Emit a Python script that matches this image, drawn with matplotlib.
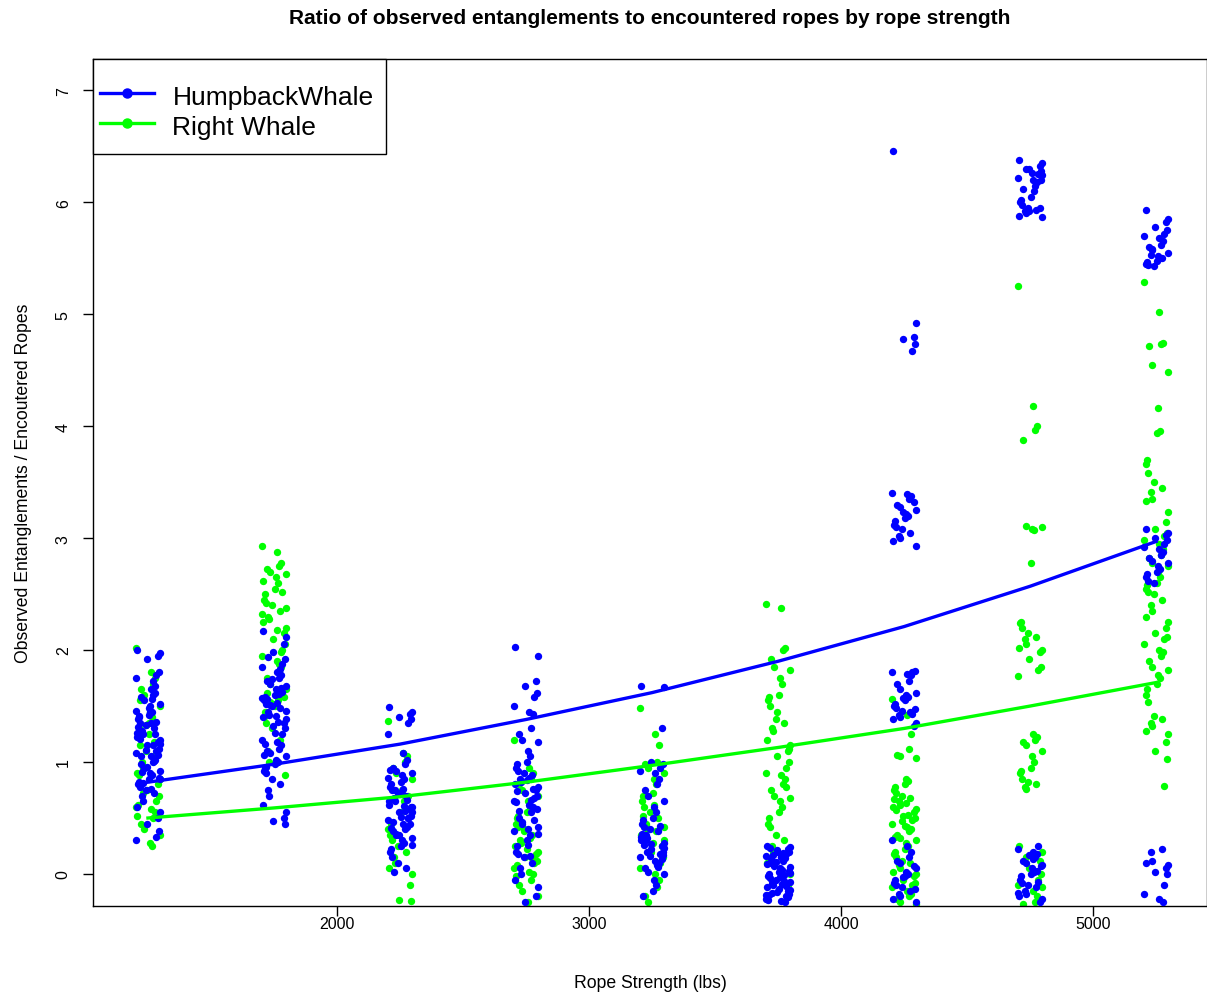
import matplotlib
matplotlib.use("Agg")
import matplotlib.pyplot as plt
from matplotlib.lines import Line2D
from matplotlib.patches import Rectangle

plt.rcParams['font.family'] = ['Liberation Sans', 'DejaVu Sans']

# ---------------- data ----------------
STRENGTHS = [1250, 1750, 2250, 2750, 3250, 3750, 4250, 4750, 5250]

HB_FIT = [0.82, 0.98, 1.16, 1.38, 1.62, 1.90, 2.21, 2.57, 2.97]
RW_FIT = [0.50, 0.59, 0.69, 0.82, 0.97, 1.13, 1.30, 1.50, 1.71]

HB_1250 = [2.0, 1.97, 1.95, 1.92, 1.8, 1.78, 1.75, 1.65, 1.62, 1.6, 1.58, 1.55, 1.52, 1.5, 1.45, 1.42, 1.4, 1.38,
           1.35, 1.33, 1.3, 1.28, 1.25, 1.22, 1.2, 1.18, 1.15, 1.12, 1.1, 1.08, 1.05, 1.02, 1.0, 0.98, 0.95, 0.92,
           0.9, 0.88, 0.85, 0.82, 0.8, 0.78, 0.75, 0.72, 0.7, 0.65, 0.6, 0.55, 0.5, 0.45, 0.38, 0.33, 0.3, 1.35,
           1.25, 1.15, 1.05, 0.95, 0.85, 1.45, 1.56, 1.48, 1.41, 1.31, 1.21, 1.11, 1.01, 0.91, 0.81, 1.26, 1.16,
           1.06, 0.96, 0.86, 1.36, 1.46, 0.76, 1.68, 1.72]
RW_1250 = [2.02, 1.8, 1.75, 1.7, 1.65, 1.6, 1.5, 1.45, 1.4, 1.35, 1.3, 1.22, 1.15, 1.1, 1.05, 1.0, 0.95, 0.9,
           0.85, 0.8, 0.75, 0.7, 0.65, 0.6, 0.58, 0.55, 0.5, 0.45, 0.4, 0.35, 0.28, 0.25, 1.25, 0.88, 0.62,
           1.55, 1.33, 1.18, 0.98, 0.72, 0.52]

HB_1750 = [2.17, 2.12, 2.05, 1.98, 1.92, 1.88, 1.85, 1.8, 1.78, 1.75, 1.72, 1.7, 1.68, 1.65, 1.62, 1.6, 1.58,
           1.55, 1.52, 1.5, 1.48, 1.45, 1.42, 1.4, 1.38, 1.35, 1.32, 1.3, 1.25, 1.2, 1.18, 1.15, 1.12, 1.1, 1.08,
           1.05, 1.02, 1.0, 0.98, 0.95, 0.92, 0.9, 0.85, 0.8, 0.75, 0.7, 0.62, 0.55, 0.5, 0.47, 0.45, 1.63,
           1.57, 1.53, 1.66, 1.61, 1.56, 1.51, 1.46, 1.41, 1.36, 1.26, 1.16, 1.06, 0.96, 1.74, 1.83, 1.94]
RW_1750 = [2.93, 2.88, 2.78, 2.75, 2.72, 2.7, 2.68, 2.65, 2.6, 2.55, 2.5, 2.45, 2.42, 2.4, 2.35, 2.3, 2.28,
           2.25, 2.2, 2.15, 2.1, 2.05, 2.0, 1.95, 1.9, 1.85, 1.8, 1.75, 1.7, 1.65, 1.6, 1.55, 1.5, 1.45, 1.4,
           1.35, 1.3, 1.2, 1.1, 1.0, 2.62, 2.38, 1.58, 1.52, 0.88, 2.52, 2.32, 2.18, 1.98, 1.88, 1.62, 1.54]

HB_2250 = [1.49, 1.45, 1.43, 1.4, 1.38, 1.35, 1.25, 1.08, 1.02, 0.98, 0.95, 0.92, 0.9, 0.88, 0.85, 0.82, 0.8,
           0.78, 0.75, 0.72, 0.7, 0.68, 0.65, 0.62, 0.6, 0.58, 0.55, 0.52, 0.5, 0.48, 0.45, 0.42, 0.4, 0.38,
           0.35, 0.32, 0.3, 0.28, 0.25, 0.22, 0.2, 0.15, 0.1, 0.05, 0.02, 0.75, 0.65, 0.55, 0.45, 0.35, 0.6, 0.5,
           0.86, 0.76, 0.66, 0.56, 0.46, 0.36, 0.26, 0.71, 0.61, 0.51, 0.41, 0.93]
RW_2250 = [1.37, 1.08, 1.05, 1.0, 0.95, 0.9, 0.85, 0.75, 0.65, 0.55, 0.45, 0.35, 0.3, 0.25, 0.2, 0.15, 0.1,
           0.05, 0.0, -0.1, -0.23, -0.24, 0.7, 0.4]

HB_2750 = [2.03, 1.95, 1.72, 1.68, 1.62, 1.58, 1.5, 1.45, 1.43, 1.3, 1.25, 1.2, 1.18, 1.1, 1.05, 1.0, 0.98,
           0.95, 0.92, 0.9, 0.88, 0.85, 0.82, 0.8, 0.78, 0.75, 0.72, 0.7, 0.68, 0.65, 0.62, 0.6, 0.55, 0.5,
           0.45, 0.42, 0.4, 0.35, 0.3, 0.25, 0.2, 0.18, 0.15, 0.1, 0.05, 0.0, -0.05, -0.12, -0.2, -0.25, 0.58,
           0.48, 0.38, 0.86, 0.76, 0.66, 0.56, 0.46, 0.36, 0.26, 0.16, 0.84, 0.74, 0.64]
RW_2750 = [1.2, 0.95, 0.9, 0.85, 0.8, 0.75, 0.7, 0.65, 0.6, 0.55, 0.5, 0.45, 0.42, 0.4, 0.35, 0.3, 0.28, 0.25,
           0.2, 0.18, 0.15, 0.12, 0.1, 0.05, 0.02, 0.0, -0.05, -0.1, -0.15, -0.2, -0.25, 0.32, 0.22, 0.08, -0.02,
           0.52, 0.38, 0.14]

HB_3250 = [1.68, 1.67, 1.3, 1.0, 0.98, 0.95, 0.92, 0.9, 0.85, 0.8, 0.75, 0.7, 0.65, 0.6, 0.55, 0.5, 0.48, 0.45,
           0.42, 0.4, 0.38, 0.35, 0.32, 0.3, 0.28, 0.25, 0.22, 0.2, 0.18, 0.15, 0.12, 0.1, 0.08, 0.05, 0.02, 0.0,
           -0.05, -0.1, -0.15, -0.2, 0.36, 0.26, 0.16, 0.06, 0.3, 0.2, 0.33, 0.23, 0.13, 0.27, 0.17, 0.43]
RW_3250 = [1.48, 1.25, 1.15, 1.0, 0.98, 0.95, 0.9, 0.85, 0.8, 0.72, 0.7, 0.65, 0.6, 0.55, 0.5, 0.45, 0.4, 0.35,
           0.3, 0.25, 0.2, 0.15, 0.1, 0.05, 0.0, -0.05, -0.12, -0.2, -0.25, 0.42, 0.62, 0.38, 0.28, 0.52]

HB_3750 = [0.25, 0.24, 0.22, 0.2, 0.2, 0.18, 0.16, 0.15, 0.14, 0.12, 0.1, 0.08, 0.06, 0.05, 0.04, 0.02, 0.0,
           -0.02, -0.04, -0.05, -0.06, -0.08, -0.1, -0.12, -0.14, -0.15, -0.16, -0.18, -0.2, -0.22, -0.24, -0.25,
           0.19, 0.13, 0.07, 0.01, -0.03, -0.09, -0.13, -0.19, -0.23, 0.23, 0.11, -0.01, -0.17, 0.17, 0.09,
           -0.07, -0.21, 0.21, 0.03, -0.11, -0.19, 0.15]
RW_3750 = [2.41, 2.38, 2.02, 2.0, 1.92, 1.85, 1.82, 1.75, 1.7, 1.6, 1.58, 1.55, 1.5, 1.38, 1.35, 1.3, 1.28, 1.2,
           1.15, 1.1, 1.05, 1.0, 0.95, 0.9, 0.88, 0.85, 0.8, 0.75, 0.7, 0.68, 0.65, 0.6, 0.55, 0.5, 0.45, 0.42,
           0.35, 0.3, 0.25, 0.2, 0.1, 0.0, -0.1, 1.45, 1.12, 0.78]

HB_4250 = [6.46, 4.92, 4.8, 4.78, 4.73, 4.67, 3.4, 3.39, 3.38, 3.35, 3.3, 3.28, 3.25, 3.22, 3.2, 3.18, 3.15,
           3.12, 3.1, 3.08, 3.05, 3.02, 3.0, 2.97, 2.93, 3.32, 3.23, 1.81, 1.8, 1.8, 1.79, 1.78, 1.72, 1.7, 1.65,
           1.62, 1.6, 1.58, 1.55, 1.52, 1.5, 1.48, 1.46, 1.45, 1.42, 1.4, 1.38, 1.35, 1.32, 1.57, 1.47, 1.43,
           0.3, 0.25, 0.2, 0.15, 0.12, 0.1, 0.05, 0.02, 0.0, -0.02, -0.05, -0.08, -0.1, -0.12, -0.15, -0.18,
           -0.2, -0.22, -0.25, 0.07, -0.03, -0.13]
RW_4250 = [1.56, 1.42, 1.25, 1.12, 1.06, 1.05, 1.04, 0.85, 0.83, 0.8, 0.78, 0.75, 0.72, 0.7, 0.68, 0.65, 0.62,
           0.6, 0.58, 0.55, 0.52, 0.5, 0.48, 0.45, 0.42, 0.4, 0.38, 0.35, 0.32, 0.3, 0.28, 0.25, 0.22, 0.2,
           0.18, 0.15, 0.12, 0.1, 0.08, 0.05, 0.02, 0.0, -0.02, -0.05, -0.08, -0.1, -0.12, -0.15, -0.18, -0.2,
           -0.22, -0.25, -0.27, 0.63, 0.53, 0.43, 0.33, 0.67, 0.57, 0.47]

HB_4750 = [6.38, 6.35, 6.32, 6.3, 6.28, 6.25, 6.22, 6.2, 6.18, 6.15, 6.12, 6.3, 6.24, 6.26, 6.1, 6.05, 6.02,
           6.0, 5.98, 5.95, 5.93, 5.92, 5.9, 5.88, 5.87, 5.95, 5.92, 6.2, 0.25, 0.22, 0.2, 0.18, 0.15, 0.12,
           0.1, 0.08, 0.05, 0.02, 0.0, -0.02, -0.05, -0.08, -0.1, -0.12, -0.15, -0.18, -0.2, -0.22, -0.25, 0.17,
           0.07, -0.07, -0.17, 0.13, 0.03]
RW_4750 = [5.25, 4.18, 4.0, 3.97, 3.88, 3.11, 3.1, 3.08, 3.07, 2.78, 2.25, 2.24, 2.2, 2.15, 2.12, 2.1, 2.05,
           2.02, 2.0, 1.98, 1.92, 1.85, 1.82, 1.77, 1.25, 1.22, 1.2, 1.18, 1.15, 1.1, 1.05, 1.0, 0.95, 0.92,
           0.9, 0.85, 0.82, 0.8, 0.78, 0.76, 0.25, 0.2, 0.12, 0.05, 0.0, -0.05, -0.1, -0.15, -0.2, -0.25, -0.27,
           0.15, -0.12]

HB_5250 = [5.93, 5.85, 5.82, 5.78, 5.75, 5.72, 5.7, 5.68, 5.65, 5.62, 5.6, 5.58, 5.55, 5.52, 5.5, 5.48, 5.47,
           5.45, 5.44, 5.43, 5.5, 5.53, 5.57, 3.08, 3.05, 3.03, 3.0, 2.98, 2.95, 2.92, 2.9, 2.88, 2.85, 2.82,
           2.8, 2.78, 2.75, 2.72, 2.7, 2.68, 2.65, 2.62, 2.6, 0.22, 0.2, 0.12, 0.1, 0.08, 0.05, 0.02, 0.0, -0.1,
           -0.18, -0.22, -0.25]
RW_5250 = [5.29, 5.02, 4.74, 4.73, 4.72, 4.55, 4.48, 4.16, 3.96, 3.94, 3.7, 3.66, 3.58, 3.5, 3.45, 3.41, 3.35,
           3.33, 3.23, 3.14, 3.08, 3.05, 3.02, 2.98, 2.95, 2.9, 2.85, 2.82, 2.78, 2.75, 2.7, 2.65, 2.6, 2.58,
           2.55, 2.52, 2.5, 2.45, 2.4, 2.35, 2.3, 2.25, 2.2, 2.15, 2.12, 2.1, 2.05, 2.0, 1.98, 1.95, 1.9, 1.85,
           1.82, 1.78, 1.75, 1.7, 1.65, 1.6, 1.54, 1.41, 1.38, 1.35, 1.32, 1.28, 1.25, 1.18, 1.1, 1.03, 0.79]

HB_GROUPS = [HB_1250, HB_1750, HB_2250, HB_2750, HB_3250, HB_3750, HB_4250, HB_4750, HB_5250]
RW_GROUPS = [RW_1250, RW_1750, RW_2250, RW_2750, RW_3250, RW_3750, RW_4250, RW_4750, RW_5250]

SERIES_NAMES = ["HumpbackWhale", "Right Whale"]
TITLE = "Ratio of observed entanglements to encountered ropes by rope strength"
XLABEL = "Rope Strength (lbs)"
YLABEL = "Observed Entanglements / Encoutered Ropes"

# fixed horizontal jitter pattern (display spreading only)
JITTER = [-42, 17, 33, -8, -29, 46, 4, -47, 25, -15, 38, -36, 11, -22, 49, -3, -40, 29, -18, 7, 42, -33, 20]

BLUE = "#0000ff"
GREEN = "#00ff00"

W, H = 1207, 995
fig = plt.figure(figsize=(W / 100, H / 100), dpi=100)
ax = fig.add_axes([93 / W, 1 - 907 / H, (W - 93) / W, (907 - 60) / H])


def spread(groups, shift):
    xs, ys = [], []
    for cx, vals in zip(STRENGTHS, groups):
        for i, v in enumerate(vals):
            xs.append(cx + JITTER[(i * 5 + shift) % len(JITTER)])
            ys.append(v)
    return xs, ys


rx, ry = spread(RW_GROUPS, 7)
hx, hy = spread(HB_GROUPS, 0)
ax.scatter(rx, ry, s=28, color=GREEN, linewidths=0, zorder=2)
ax.scatter(hx, hy, s=28, color=BLUE, linewidths=0, zorder=3)

ax.plot(STRENGTHS, HB_FIT, color=BLUE, lw=2.4, zorder=4)
ax.plot(STRENGTHS, RW_FIT, color=GREEN, lw=2.4, zorder=4)

ax.set_xlim(1032, 5452)
ax.set_ylim(-0.286, 7.28)
ax.set_xticks([2000, 3000, 4000, 5000])
ax.set_yticks(range(0, 8))
ax.tick_params(axis='both', direction='out', length=7, width=1, labelsize=11.5, colors='black')
ax.tick_params(axis='x', pad=0.5)
ax.tick_params(axis='y', pad=9)
for lab in ax.get_yticklabels():
    lab.set_rotation(90)
    lab.set_va('center')
for sp in ax.spines.values():
    sp.set_linewidth(1)
    sp.set_color('black')

ax.set_xlabel(XLABEL, fontsize=12.7, labelpad=31)
ax.set_ylabel(YLABEL, fontsize=12.7, labelpad=17)
fig.text((93 + W) / 2 / W, 1 - 18 / H, TITLE, ha='center', va='center', fontsize=15, fontweight='bold')

# legend frame (R-style box anchored to the plot corner)
ax.add_patch(Rectangle((93 / W, 1 - 155 / H), 293 / W, 95 / H, transform=fig.transFigure,
                       facecolor='white', edgecolor='black', lw=1, zorder=5, clip_on=False))
handles = [Line2D([], [], color=BLUE, lw=2.4, marker='o', markersize=6.5),
           Line2D([], [], color=GREEN, lw=2.4, marker='o', markersize=6.5)]
leg = ax.legend(handles, SERIES_NAMES, loc='upper left', bbox_to_anchor=(0, 1 - 17 / 847),
                borderaxespad=0, fontsize=19, handlelength=2.08, handletextpad=0.68, borderpad=0.25,
                handleheight=1.1, labelspacing=0.12, frameon=False)
leg.set_zorder(6)

fig.savefig("out.png", dpi=100)
